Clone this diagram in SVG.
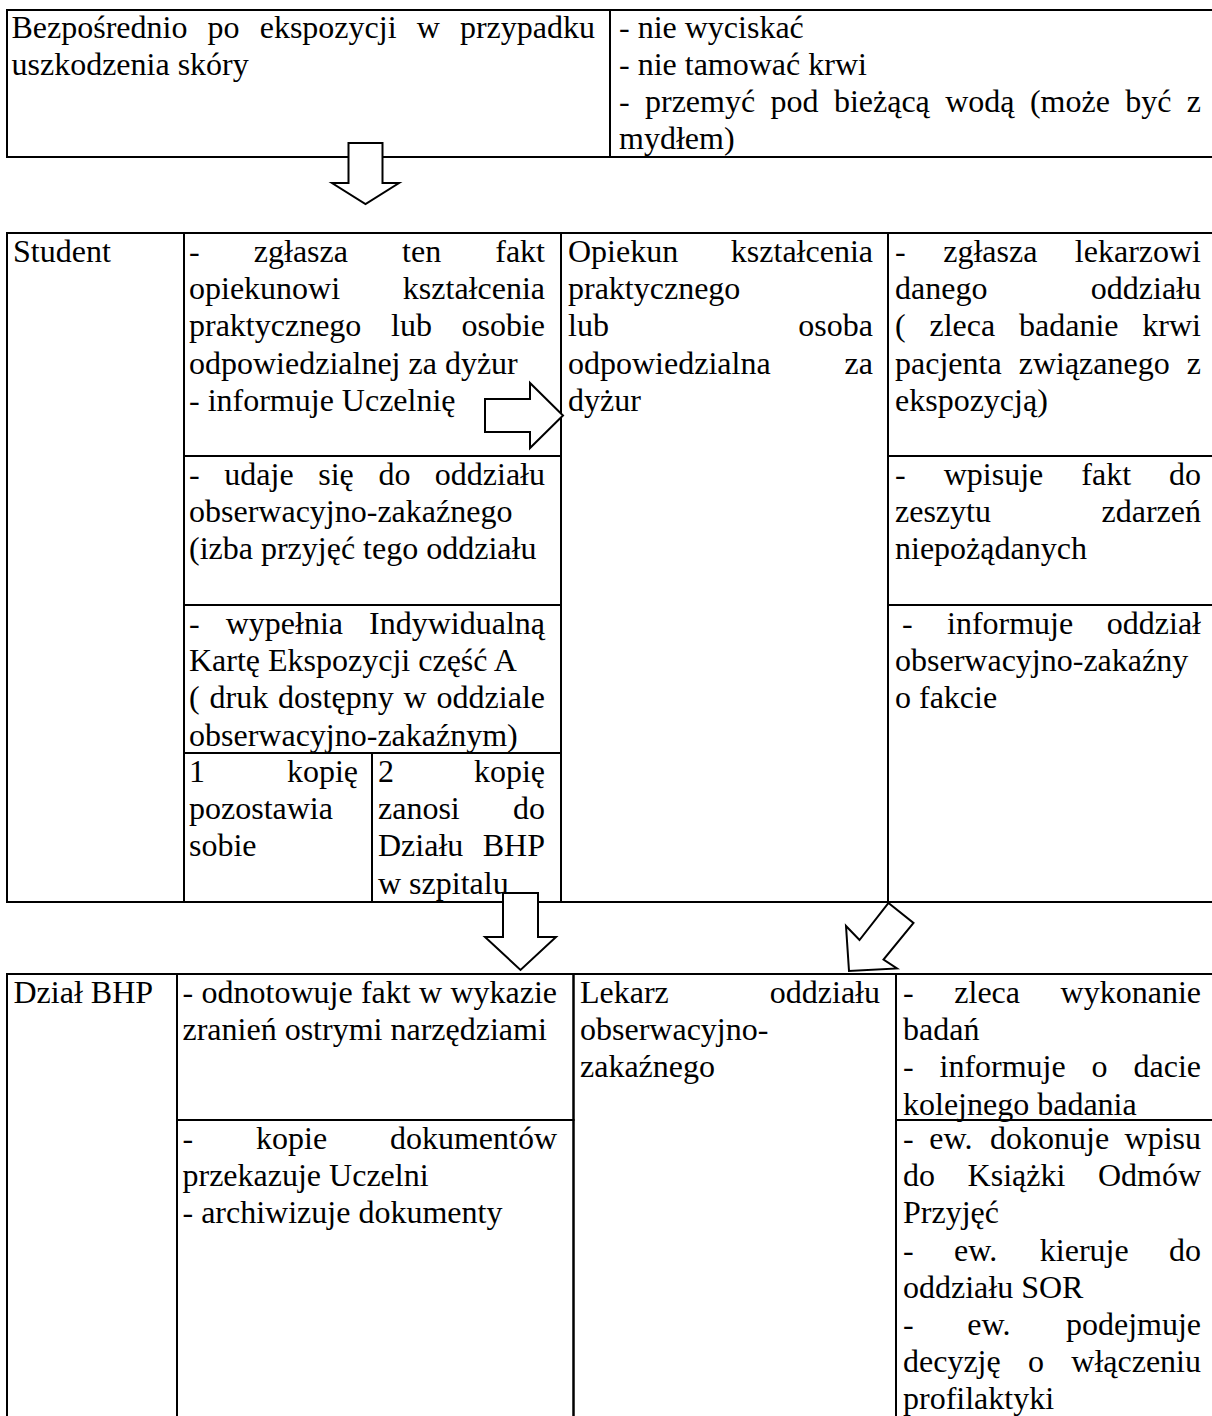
<svg xmlns="http://www.w3.org/2000/svg" width="1212" height="1416" viewBox="0 0 1212 1416">
<style>
text { font-family: "Liberation Serif", "Times New Roman", serif; font-size: 32px; fill: #000; }
.e { text-anchor: end; }
.cell { fill: none; stroke: #000; stroke-width: 2; }
.arrow { fill: #fff; stroke: #000; stroke-width: 2; stroke-linejoin: miter; }
</style>
<rect x="0" y="0" width="1212" height="1416" fill="#fff"/>

<g id="n-top-left">
<rect class="cell" x="7" y="10" width="603" height="147"/>
<text x="11.5" y="37.5">Bezpośrednio</text><text x="207.6" y="37.5">po</text><text x="259.7" y="37.5">ekspozycji</text><text x="416.7" y="37.5">w</text><text class="e" x="595" y="37.5">przypadku</text>
<text x="11.5" y="74.7">uszkodzenia skóry</text>
</g>

<g id="n-top-right">
<rect class="cell" x="610" y="10" width="610" height="147"/>
<text x="619" y="37.5">- nie wyciskać</text>
<text x="619" y="74.7">- nie tamować krwi</text>
<text x="619" y="111.9">-</text><text x="645" y="111.9">przemyć</text><text x="770.6" y="111.9">pod</text><text x="833.9" y="111.9">bieżącą</text><text x="945.2" y="111.9">wodą</text><text x="1029.9" y="111.9">(może</text><text x="1125.2" y="111.9">być</text><text class="e" x="1201" y="111.9">z</text>
<text x="619" y="149.1">mydłem)</text>
</g>

<g id="n-student">
<rect class="cell" x="7" y="233" width="177" height="669"/>
<text x="13" y="262">Student</text>
</g>

<g id="n-student-report">
<rect class="cell" x="184" y="233" width="377" height="223"/>
<text x="189" y="262">-</text><text x="253.8" y="262">zgłasza</text><text x="402.1" y="262">ten</text><text class="e" x="545" y="262">fakt</text>
<text x="189" y="299.2">opiekunowi</text><text class="e" x="545" y="299.2">kształcenia</text>
<text x="189" y="336.4">praktycznego</text><text x="391" y="336.4">lub</text><text class="e" x="545" y="336.4">osobie</text>
<text x="189" y="373.6">odpowiedzialnej za dyżur</text>
<text x="189" y="410.8">- informuje Uczelnię</text>
</g>

<g id="n-student-go">
<rect class="cell" x="184" y="456" width="377" height="149"/>
<text x="189" y="485">-</text><text x="224.3" y="485">udaje</text><text x="318.2" y="485">się</text><text x="378.4" y="485">do</text><text class="e" x="545" y="485">oddziału</text>
<text x="189" y="522.2">obserwacyjno-zakaźnego</text>
<text x="189" y="559.4">(izba przyjęć tego oddziału</text>
</g>

<g id="n-student-form">
<rect class="cell" x="184" y="605" width="377" height="148"/>
<text x="189" y="634">-</text><text x="225.7" y="634">wypełnia</text><text class="e" x="545" y="634">Indywidualną</text>
<text x="189" y="671.2">Kartę Ekspozycji część A</text>
<text x="189" y="708.4">(</text><text x="209.6" y="708.4">druk</text><text x="278.1" y="708.4">dostępny</text><text x="403.6" y="708.4">w</text><text class="e" x="545" y="708.4">oddziale</text>
<text x="189" y="745.6">obserwacyjno-zakaźnym)</text>
</g>

<g id="n-student-copy1">
<rect class="cell" x="184" y="753" width="188" height="149"/>
<text x="189" y="782">1</text><text class="e" x="358" y="782">kopię</text>
<text x="189" y="819.2">pozostawia</text>
<text x="189" y="856.4">sobie</text>
</g>

<g id="n-student-copy2">
<rect class="cell" x="372" y="753" width="189" height="149"/>
<text x="378" y="782">2</text><text class="e" x="545" y="782">kopię</text>
<text x="378" y="819.2">zanosi</text><text class="e" x="545" y="819.2">do</text>
<text x="378" y="856.4">Działu</text><text class="e" x="545" y="856.4">BHP</text>
<text x="378" y="893.6">w szpitalu</text>
</g>

<g id="n-opiekun">
<rect class="cell" x="561" y="233" width="327" height="669"/>
<text x="568" y="262">Opiekun</text><text class="e" x="873" y="262">kształcenia</text>
<text x="568" y="299.2">praktycznego</text>
<text x="568" y="336.4">lub</text><text class="e" x="873" y="336.4">osoba</text>
<text x="568" y="373.6">odpowiedzialna</text><text class="e" x="873" y="373.6">za</text>
<text x="568" y="410.8">dyżur</text>
</g>

<g id="n-opiekun-notify">
<rect class="cell" x="888" y="233" width="332" height="223"/>
<text x="895" y="262">-</text><text x="943.2" y="262">zgłasza</text><text class="e" x="1201" y="262">lekarzowi</text>
<text x="895" y="299.2">danego</text><text class="e" x="1201" y="299.2">oddziału</text>
<text x="895" y="336.4">(</text><text x="929.5" y="336.4">zleca</text><text x="1019" y="336.4">badanie</text><text class="e" x="1201" y="336.4">krwi</text>
<text x="895" y="373.6">pacjenta</text><text x="1018.7" y="373.6">związanego</text><text class="e" x="1201" y="373.6">z</text>
<text x="895" y="410.8">ekspozycją)</text>
</g>

<g id="n-opiekun-log">
<rect class="cell" x="888" y="456" width="332" height="149"/>
<text x="895" y="485">-</text><text x="943.7" y="485">wpisuje</text><text x="1081.3" y="485">fakt</text><text class="e" x="1201" y="485">do</text>
<text x="895" y="522.2">zeszytu</text><text class="e" x="1201" y="522.2">zdarzeń</text>
<text x="895" y="559.4">niepożądanych</text>
</g>

<g id="n-opiekun-inform">
<rect class="cell" x="888" y="605" width="332" height="297"/>
<text x="902" y="634">-</text><text x="947" y="634">informuje</text><text class="e" x="1201" y="634">oddział</text>
<text x="895" y="671.2">obserwacyjno-zakaźny</text>
<text x="895" y="708.4">o fakcie</text>
</g>

<g id="n-bhp">
<rect class="cell" x="7" y="974" width="170" height="460"/>
<text x="13.5" y="1003">Dział BHP</text>
</g>

<g id="n-bhp-record">
<rect class="cell" x="177" y="974" width="396.5" height="146"/>
<text x="182.5" y="1003">-</text><text x="201.5" y="1003">odnotowuje</text><text x="360.9" y="1003">fakt</text><text x="419" y="1003">w</text><text class="e" x="557" y="1003">wykazie</text>
<text x="182.5" y="1040.2">zranień ostrymi narzędziami</text>
</g>

<g id="n-bhp-archive">
<rect class="cell" x="177" y="1120" width="396.5" height="310"/>
<text x="182.5" y="1149">-</text><text x="256" y="1149">kopie</text><text class="e" x="557" y="1149">dokumentów</text>
<text x="182.5" y="1186.2">przekazuje Uczelni</text>
<text x="182.5" y="1223.4">- archiwizuje dokumenty</text>
</g>

<g id="n-lekarz">
<rect class="cell" x="573.5" y="974" width="322.5" height="460"/>
<text x="580" y="1003">Lekarz</text><text class="e" x="880" y="1003">oddziału</text>
<text x="580" y="1040.2">obserwacyjno-</text>
<text x="580" y="1077.4">zakaźnego</text>
</g>

<g id="n-lekarz-tests">
<rect class="cell" x="896" y="974" width="324" height="146"/>
<text x="903" y="1003">-</text><text x="954.3" y="1003">zleca</text><text class="e" x="1201" y="1003">wykonanie</text>
<text x="903" y="1040.2">badań</text>
<text x="903" y="1077.4">-</text><text x="939.5" y="1077.4">informuje</text><text x="1091.6" y="1077.4">o</text><text class="e" x="1201" y="1077.4">dacie</text>
<text x="903" y="1114.6">kolejnego badania</text>
</g>

<g id="n-lekarz-decisions">
<rect class="cell" x="896" y="1120" width="324" height="310"/>
<text x="903" y="1149">-</text><text x="929.2" y="1149">ew.</text><text x="990" y="1149">dokonuje</text><text class="e" x="1201" y="1149">wpisu</text>
<text x="903" y="1186.2">do</text><text x="967.6" y="1186.2">Książki</text><text class="e" x="1201" y="1186.2">Odmów</text>
<text x="903" y="1223.4">Przyjęć</text>
<text x="903" y="1260.6">-</text><text x="954.1" y="1260.6">ew.</text><text x="1039.8" y="1260.6">kieruje</text><text class="e" x="1201" y="1260.6">do</text>
<text x="903" y="1297.8">oddziału SOR</text>
<text x="903" y="1335">-</text><text x="967.2" y="1335">ew.</text><text class="e" x="1201" y="1335">podejmuje</text>
<text x="903" y="1372.2">decyzję</text><text x="1028" y="1372.2">o</text><text class="e" x="1201" y="1372.2">włączeniu</text>
<text x="903" y="1409.4">profilaktyki</text>
</g>

<g id="connectors">
<path class="arrow" d="M348.5,143 H382.5 V183 H399 L365.5,204 L332,183 H348.5 Z"/>
<path class="arrow" d="M485,399 H530 V383 L563,415.5 L530,448 V432 H485 Z"/>
<path class="arrow" d="M503,893 H538 V937 H556 L520.5,970 L485,937 H503 Z"/>
<path class="arrow" d="M888.5,903 L913.5,923 L883.5,959.5 L897,968.5 L849,971 L846,926 L859.5,940 Z"/>
</g>
</svg>
